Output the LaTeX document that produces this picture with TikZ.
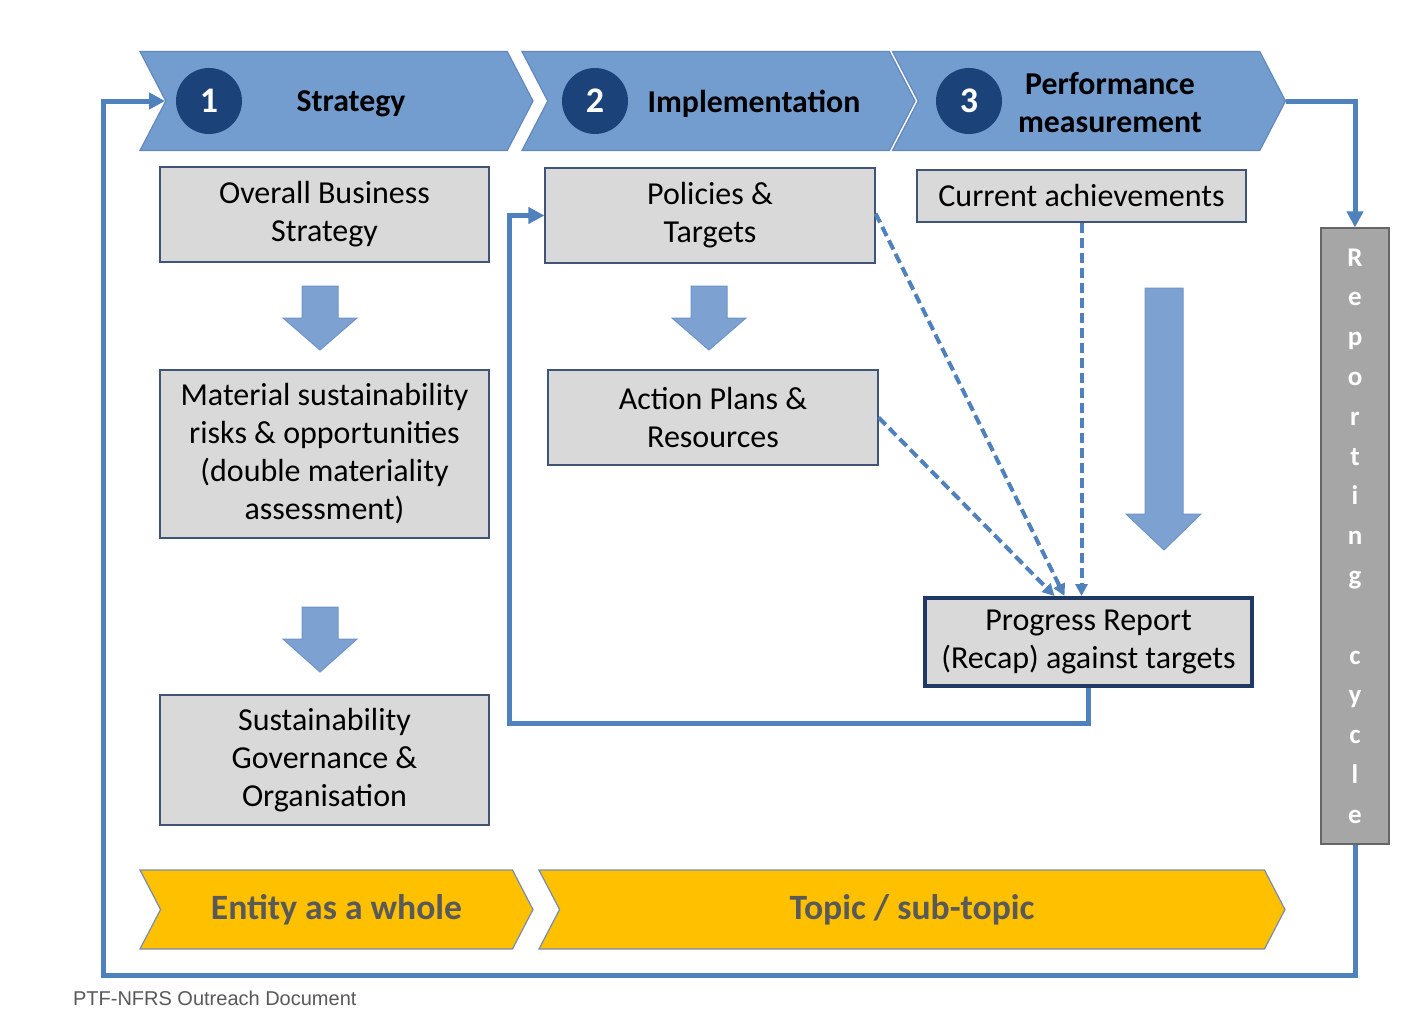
\documentclass[tikz,border=0pt]{standalone}
\usepackage{fontspec}
\setmainfont{Carlito}
\newfontfamily\footfont{Liberation Sans}
\usetikzlibrary{shapes.symbols,arrows.meta}
\definecolor{chevblue}{RGB}{116,157,207}
\definecolor{chevedge}{RGB}{98,136,190}
\definecolor{navy}{RGB}{28,66,122}
\definecolor{flowblue}{RGB}{79,129,189}
\definecolor{boxgray}{RGB}{217,217,217}
\definecolor{boxedge}{RGB}{64,84,120}
\definecolor{reportedge}{RGB}{31,56,100}
\definecolor{bargray}{RGB}{166,166,166}
\definecolor{amber}{RGB}{255,192,0}
\definecolor{amberedge}{RGB}{120,140,175}
\definecolor{ambertext}{RGB}{89,89,89}
\definecolor{arrowfill}{RGB}{125,162,210}
\definecolor{arrowedge}{RGB}{110,148,200}
% block arrow pointing down: centre x, top, neck, tip
\newcommand{\dnarrow}[4]{%
  \draw[blockarrow] (#1-18,#2) -- (#1+18,#2) -- (#1+18,#3) -- (#1+37,#3) -- (#1,#4) -- (#1-37,#3) -- (#1-18,#3) -- cycle;}
\begin{document}
\begin{tikzpicture}[x=0.5pt,y=-0.5pt,
  chev/.style={signal,signal from=west,signal to=east,signal pointer angle=125,draw=chevedge,fill=chevblue,line width=0.6pt,inner sep=0pt,minimum width=196.5pt,minimum height=49.5pt},
  amberchev/.style={chev,draw=amberedge,fill=amber,minimum height=39.5pt,text=ambertext,font=\fontsize{17.8}{20}\bfseries},
  num/.style={circle,fill=navy,text=white,font=\fontsize{18}{20}\bfseries,minimum size=33pt,inner sep=0pt},
  head/.style={align=center,font=\fontsize{15.9}{19}\bfseries},
  box/.style={draw=boxedge,fill=boxgray,line width=0.6pt,align=center,inner sep=0pt,minimum width=164.5pt,font=\fontsize{16}{19}\selectfont},
  blockarrow/.style={draw=arrowedge,fill=arrowfill,line width=0.5pt},
  cycleline/.style={flowblue,line width=2.5pt,-{Triangle[length=8pt,width=8pt]}},
  feed/.style={flowblue,line width=2pt,dash pattern=on 5pt off 2.5pt,-{Triangle[length=6pt,width=6pt]}}]
  \useasboundingbox[fill=white] (0,0) rectangle (1422,1028);

  % phases
  \path node[chev] (s1) at (336.5,101) {} node[chev] (s2) at (718.5,101) {} node[chev] (s3) at (1089,101) {};
  \path node[num] (n1) at (209,101) {1} node[num] (n2) at (595,101) {2} node[num] (n3) at (969,101) {3};
  \path node[head] (t1) at (351,104) {Strategy} node[head] (t2) at (754,104) {Implementation}
     node[head] (t3) at (1110,103) {Performance\\measurement};

  % boxes
  \node[box,minimum height=47.5pt] (obs) at (324.5,214.5) {Overall Business\\Strategy};
  \node[box,minimum height=84pt] (mat) at (324.5,454) {Material sustainability\\risks \& opportunities\\(double materiality\\assessment)};
  \node[box,minimum height=65pt] (gov) at (324.5,760) {Sustainability\\Governance \&\\Organisation};
  \node[box,minimum width=165pt,minimum height=47.5pt] (pol) at (710,215.5) {Policies \&\\Targets};
  \node[box,minimum width=165pt,minimum height=47.5pt] (act) at (713,417.5) {Action Plans \&\\Resources};
  \node[box,minimum height=26pt] (cur) at (1081.5,196) {Current achievements};
  \node[box,draw=reportedge,line width=2pt,minimum width=163.5pt,minimum height=44pt] (rep) at (1088.5,642) {Progress Report\\(Recap) against targets};
  \node[draw=gray!80!black,fill=bargray,line width=0.6pt,minimum width=34pt,minimum height=308pt,inner sep=0pt,align=center,
     text=white,font=\fontsize{13.5}{19.9}\bfseries] (bar) at (1355,536) {R\\e\\p\\o\\r\\t\\i\\n\\g\\~\\c\\y\\c\\l\\e};

  \dnarrow{320}{286}{318}{350}
  \dnarrow{709}{286}{318}{350}
  \dnarrow{320}{607}{639}{672}
  \draw[blockarrow] (1145,288) -- (1183,288) -- (1183,514) -- (1201,514) -- (1164,550) -- (1126,514) -- (1145,514) -- cycle;

  % scope
  \path node[amberchev] (y1) at (336.5,909.5) {\raisebox{-1pt}{Entity as a whole}}
     node[amberchev,minimum width=373pt] (y2) at (912,909.5) {\raisebox{-1pt}{Topic / sub-topic}};

  % cycles
  \coordinate (loopl) at (509,723);
  \coordinate (outl) at (103,975);
  \draw[cycleline] (rep.south) |- (loopl) |- (pol.west);
  \draw[cycleline] (s3.east) -| (bar.north);
  \draw[cycleline] (bar.south) |- (outl) |- (s1.west);
  \draw[feed] ([yshift=1pt]pol.east) -- ([xshift=-12pt]rep.north);
  \draw[feed] (act.east) -- ([xshift=-17pt]rep.north);
  \draw[feed] (cur.south) -- (cur.south |- rep.north);

  \node[anchor=west,text=ambertext,font=\footfont\fontsize{10}{12}\selectfont] (src) at (66,998) {PTF-NFRS Outreach Document};
\end{tikzpicture}
\end{document}
